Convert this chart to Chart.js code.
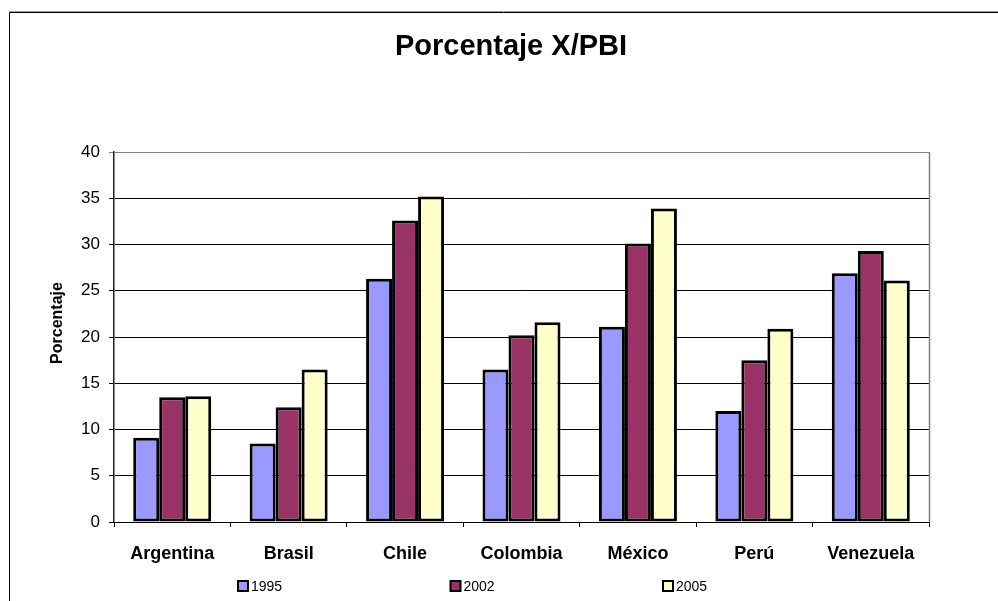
<!DOCTYPE html>
<html>
<head>
<meta charset="utf-8">
<title>Porcentaje X/PBI</title>
<script src="https://cdn.jsdelivr.net/npm/chart.js@4"></script>
<style>
  html, body { margin: 0; padding: 0; background: #fff; }
  #wrap { width: 998px; height: 601px; }
</style>
</head>
<body>
<div id="wrap"><canvas id="c" width="998" height="601"></canvas></div>
<script>
// Exports as a share of GDP, by country
const chartTitle = 'Porcentaje X/PBI';
const yAxisTitle = 'Porcentaje';
const countries = ['Argentina', 'Brasil', 'Chile', 'Colombia', 'México', 'Perú', 'Venezuela'];
const years = ['1995', '2002', '2005'];
const values1995 = [9.1, 8.5, 26.3, 16.5, 21.1, 12.0, 26.9];
const values2002 = [13.5, 12.4, 32.6, 20.2, 30.1, 17.5, 29.3];
const values2005 = [13.6, 16.5, 35.2, 21.6, 33.9, 20.9, 26.1];
const yTicks = [0, 5, 10, 15, 20, 25, 30, 35, 40];

const FONT = '"Liberation Sans", Arial, Helvetica, sans-serif';
const fills = ['#9999FF', '#993366', '#FFFFCC'];

// White page with the outer frame, grey plot edges, heading, axis title and legend
const framePlugin = {
  id: 'frame',
  beforeDraw(chart) {
    const ctx = chart.ctx;
    ctx.save();
    ctx.fillStyle = '#fff';
    ctx.fillRect(0, 0, chart.width, chart.height);
    ctx.lineWidth = 1;
    ctx.strokeStyle = '#9a9a9a';
    ctx.beginPath();
    ctx.moveTo(9, 11.5); ctx.lineTo(chart.width, 11.5);
    ctx.stroke();
    ctx.strokeStyle = '#000';
    ctx.beginPath();
    ctx.moveTo(9.5, chart.height); ctx.lineTo(9.5, 12.5); ctx.lineTo(chart.width, 12.5);
    ctx.stroke();
    ctx.restore();
  },
  beforeDatasetsDraw(chart) {
    const { ctx, chartArea: a } = chart;
    ctx.save();
    ctx.strokeStyle = '#808080';
    ctx.lineWidth = 1.5;
    ctx.beginPath();
    ctx.moveTo(Math.round(a.right) + 0.5, a.top);
    ctx.lineTo(Math.round(a.right) + 0.5, a.bottom);
    ctx.stroke();
    ctx.restore();
  },
  afterDraw(chart) {
    const ctx = chart.ctx;
    ctx.save();
    // chart heading
    ctx.fillStyle = '#000';
    ctx.font = 'bold 29px ' + FONT;
    ctx.textAlign = 'center';
    ctx.textBaseline = 'alphabetic';
    ctx.fillText(chartTitle, 511, 55);

    // vertical axis title
    ctx.save();
    ctx.translate(58, 323);
    ctx.rotate(-Math.PI / 2);
    ctx.font = 'bold 16px ' + FONT;
    ctx.textBaseline = 'middle';
    ctx.fillText(yAxisTitle, 0, 0);
    ctx.restore();

    // legend row below the category labels
    ctx.font = '14px ' + FONT;
    ctx.textAlign = 'left';
    ctx.textBaseline = 'middle';
    chart.data.datasets.forEach((ds, i) => {
      const x = 238 + i * 212.5;
      const y = 586;
      ctx.fillStyle = ds.backgroundColor;
      ctx.fillRect(x, y - 5, 10, 10);
      ctx.strokeStyle = '#000';
      ctx.lineWidth = 2;
      ctx.strokeRect(x, y - 5, 10, 10);
      ctx.fillStyle = '#000';
      ctx.fillText(ds.label, x + 13, y + 1);
    });
    ctx.restore();
  }
};

const seriesValues = [values1995, values2002, values2005];

new Chart(document.getElementById('c'), {
  type: 'bar',
  data: {
    labels: countries,
    datasets: years.map((y, i) => ({
      label: y,
      data: seriesValues[i],
      backgroundColor: fills[i],
      borderColor: '#000',
      borderWidth: 3,
      borderSkipped: false,
      categoryPercentage: 0.67,
      barPercentage: 1.0
    }))
  },
  options: {
    responsive: false,
    animation: false,
    devicePixelRatio: 1,
    layout: { padding: { left: 40, right: 69, top: 152, bottom: 0 } },
    plugins: {
      legend: { display: false },
      title: { display: false },
      tooltip: { enabled: false }
    },
    scales: {
      x: {
        offset: true,
        grid: {
          display: true,
          drawOnChartArea: false,
          drawTicks: true,
          tickLength: 5,
          color: '#000',
          offset: true
        },
        border: { display: true, color: '#000', width: 1 },
        ticks: {
          color: '#000',
          font: { family: FONT, size: 18, weight: 'bold' },
          padding: 16,
          maxRotation: 0,
          autoSkip: false
        },
        afterFit(scale) { scale.height = 79; }
      },
      y: {
        min: yTicks[0],
        max: yTicks[yTicks.length - 1],
        afterBuildTicks(scale) { scale.ticks = yTicks.map(v => ({ value: v })); },
        grid: {
          drawTicks: true,
          tickLength: 5,
          lineWidth: 1,
          color: ctx => (ctx.tick && ctx.tick.value === 40) ? '#808080' : '#000'
        },
        border: { display: true, color: '#222', width: 1.5 },
        ticks: {
          color: '#000',
          font: { family: FONT, size: 17 },
          padding: 9
        },
        title: { display: false },
        afterFit(scale) { scale.width = 74; }
      }
    }
  },
  plugins: [framePlugin]
});
</script>
</body>
</html>
